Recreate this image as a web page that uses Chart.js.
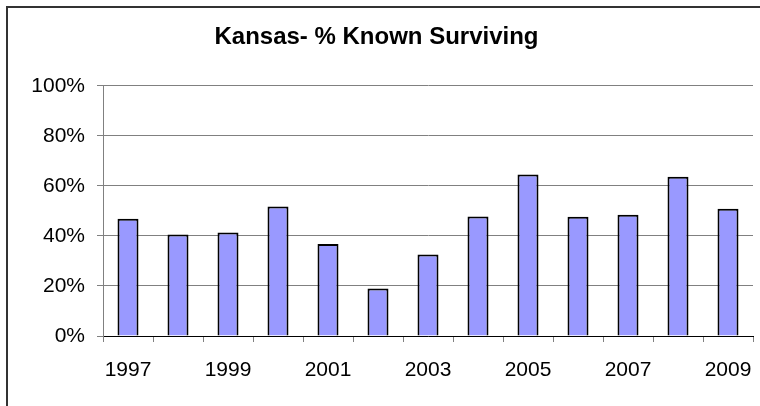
<!DOCTYPE html>
<html lang="en">
  <head>
    <meta charset="UTF-8" />
    <title>Kansas- % Known Surviving</title>
    <script src="https://cdn.jsdelivr.net/npm/chart.js"></script>
    <style>
      body { margin: 0; background: #fff; overflow: hidden; }
      .frame {
        position: absolute; left: 6px; top: 6px; width: 900px; height: 600px;
        border-left: 2px solid #333; border-top: 2px solid #333;
      }
      .wrap { position: absolute; left: 0; top: 0; width: 760px; height: 406px; }
    </style>
  </head>
  <body>
    <div class="frame"></div>
    <div class="wrap"><canvas id="myChart"></canvas></div>
    <script>
      const years = ["1997", "1998", "1999", "2000", "2001", "2002", "2003",
                     "2004", "2005", "2006", "2007", "2008", "2009"];
      const knownSurviving = [46.9, 40.6, 41.4, 51.8, 36.8, 19.0, 32.6,
                              47.8, 64.5, 47.7, 48.5, 63.6, 50.9];
      const yTicks = [0, 20, 40, 60, 80, 100];

      const font = "'Liberation Sans', Arial, sans-serif";

      const config = {
        type: "bar",
        data: {
          labels: years,
          datasets: [
            {
              label: "% Known Surviving",
              data: knownSurviving,
              backgroundColor: "#9999FF",
              borderColor: "#000000",
              borderWidth: 2,
              categoryPercentage: 1,
              barPercentage: 0.42,
            },
          ],
        },
        options: {
          responsive: true,
          maintainAspectRatio: false,
          animation: false,
          layout: { padding: { left: 0, right: 7, top: 0, bottom: 0 } },
          plugins: {
            legend: { display: false },
            tooltip: { enabled: false },
            title: {
              display: true,
              text: "Kansas- % Known Surviving",
              color: "#000",
              font: { family: font, size: 24, weight: "bold" },
              padding: { top: 23, bottom: 34 },
            },
          },
          scales: {
            x: {
              grid: {
                offset: true,
                drawOnChartArea: false,
                drawTicks: true,
                tickLength: 6,
                color: "#808080",
              },
              border: { color: "#000", width: 1 },
              ticks: {
                autoSkip: false,
                maxRotation: 0,
                color: "#000",
                padding: 16,
                font: { family: font, size: 21 },
                callback: (v, i) => (i % 2 === 0 ? years[i] : ""),
              },
              afterFit: (scale) => {
                scale.height = 70;
                scale.paddingLeft = 0;
                scale.paddingRight = 0;
              },
            },
            y: {
              min: 0,
              max: 100,
              afterBuildTicks: (scale) => {
                scale.ticks = yTicks.map((v) => ({ value: v }));
              },
              grid: { color: "#808080", tickLength: 6 },
              border: { color: "#808080", width: 1 },
              ticks: {
                color: "#000",
                padding: 12,
                font: { family: font, size: 21 },
                callback: (v) => v + "%",
              },
              afterFit: (scale) => { scale.width = 103; },
            },
          },
        },
      };
      new Chart(document.getElementById("myChart"), config);
    </script>
  </body>
</html>
